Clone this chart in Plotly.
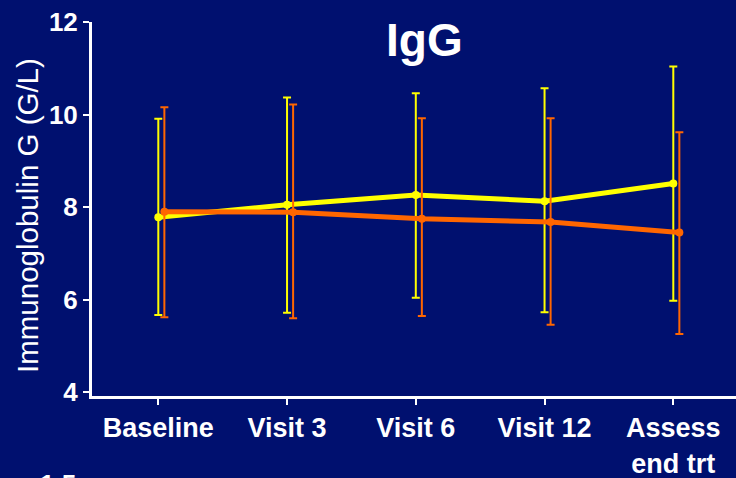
import plotly.graph_objects as go

categories = ["Baseline", "Visit 3", "Visit 6", "Visit 12", "Assess<br>end trt"]

yellow_mean = [7.78, 8.05, 8.26, 8.13, 8.51]
yellow_upper = [9.91, 10.37, 10.46, 10.57, 11.04]
yellow_lower = [5.67, 5.72, 6.04, 5.73, 5.98]

orange_mean = [7.90, 7.89, 7.75, 7.68, 7.45]
orange_upper = [10.16, 10.22, 9.92, 9.92, 9.62]
orange_lower = [5.62, 5.60, 5.65, 5.46, 5.26]

y_ticks = [4, 6, 8, 10, 12]

BG = "#00106F"
YEL = "#FFFF00"
ORA = "#FF6600"
FONT = "Liberation Sans, Arial, sans-serif"

idx = list(range(len(categories)))
shift = 0.047

fig = go.Figure()

def add_series(means, upper, lower, color, dx):
    fig.add_trace(go.Scatter(
        x=[i + dx for i in idx],
        y=means,
        mode="lines+markers",
        line=dict(color=color, width=5),
        marker=dict(color=color, size=8),
        error_y=dict(
            type="data", symmetric=False,
            array=[u - m for u, m in zip(upper, means)],
            arrayminus=[m - l for m, l in zip(means, lower)],
            color=color, thickness=2, width=4,
        ),
        showlegend=False,
        cliponaxis=False,
    ))

add_series(yellow_mean, yellow_upper, yellow_lower, YEL, 0.0)
add_series(orange_mean, orange_upper, orange_lower, ORA, shift)

fig.update_layout(
    width=736, height=478,
    margin=dict(l=92, r=0, t=22, b=82),
    paper_bgcolor=BG, plot_bgcolor=BG,
    font=dict(family=FONT, color="white"),
    xaxis=dict(
        range=[-0.515, 4.487],
        tickmode="array", tickvals=idx, ticktext=categories,
        showgrid=False, zeroline=False,
        showline=True, linecolor="white", linewidth=3,
        ticks="outside", tickcolor="white", ticklen=6, tickwidth=2,
        tickfont=dict(size=27, weight="bold", color="white", family=FONT),
    ),
    yaxis=dict(
        range=[3.92, 12],
        tickmode="array", tickvals=y_ticks,
        showgrid=False, zeroline=False,
        showline=True, linecolor="white", linewidth=3,
        ticks="outside", tickcolor="white", ticklen=6, tickwidth=2,
        tickfont=dict(size=26, weight="bold", color="white", family=FONT),
    ),
    annotations=[
        dict(text="IgG", x=0.517, y=0.952, xref="paper", yref="paper",
             xanchor="center", yanchor="middle", showarrow=False,
             font=dict(size=46, weight="bold", color="white", family=FONT)),
        dict(text="Immunoglobulin G (G/L)", x=-0.0994, y=0.484, xref="paper", yref="paper",
             xanchor="center", yanchor="middle", textangle=-90, showarrow=False,
             font=dict(size=29.5, color="white", family=FONT)),
        dict(text="1.5", x=-0.0217, y=-0.1886, xref="paper", yref="paper",
             xanchor="right", yanchor="top", showarrow=False,
             font=dict(size=26, weight="bold", color="white", family=FONT)),
    ],
)

fig.write_html(
    "out.html",
    config={"displayModeBar": False},
    post_script="document.body.style.margin='0';document.body.style.overflow='hidden';",
)
